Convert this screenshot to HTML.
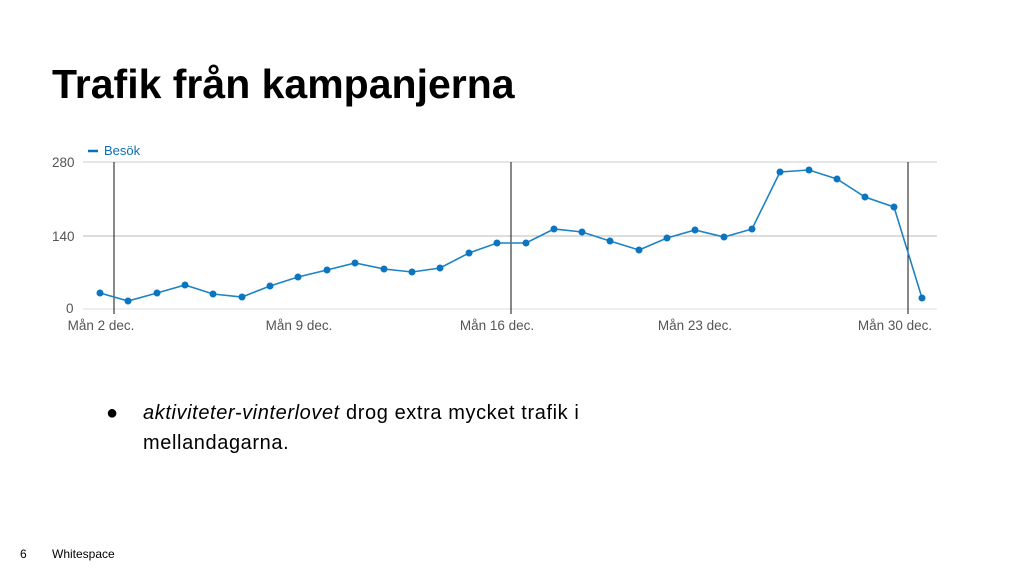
<!DOCTYPE html>
<html><head><meta charset="utf-8"><style>
body{margin:0;width:1024px;height:576px;background:#fff;position:relative;overflow:hidden;font-family:"Liberation Sans",sans-serif}
h1{position:absolute;left:52px;top:61px;margin:0;font-size:41px;font-weight:bold;color:#000;letter-spacing:0px}
.b{position:absolute;left:106px;top:398px;font-size:20px;line-height:30px;color:#000;letter-spacing:0.6px}
.f{position:absolute;top:547px;font-size:12px;color:#000}
</style></head><body>
<h1>Trafik från kampanjerna</h1>
<svg width="1024" height="576" style="position:absolute;left:0;top:0">
<g font-family="Liberation Sans,sans-serif" font-size="13.5" fill="#555">
<line x1="88" y1="151" x2="98" y2="151" stroke="#0b6fb5" stroke-width="2.5"/>
<text x="104" y="155" fill="#0b6fb5" font-size="13">Besök</text>
<line x1="83" y1="162" x2="937" y2="162" stroke="#ccc"/>
<line x1="83" y1="236" x2="937" y2="236" stroke="#bbb"/>
<line x1="83" y1="309" x2="937" y2="309" stroke="#ddd"/>
<text x="52" y="167">280</text><text x="52" y="241">140</text><text x="66" y="313">0</text>
<g stroke="#111"><line x1="114" y1="162" x2="114" y2="314"/><line x1="511" y1="162" x2="511" y2="314"/><line x1="908" y1="162" x2="908" y2="314"/></g>
<text x="101" y="330" text-anchor="middle">Mån 2 dec.</text>
<text x="299" y="330" text-anchor="middle">Mån 9 dec.</text>
<text x="497" y="330" text-anchor="middle">Mån 16 dec.</text>
<text x="695" y="330" text-anchor="middle">Mån 23 dec.</text>
<text x="895" y="330" text-anchor="middle">Mån 30 dec.</text>
</g>
<polyline fill="none" stroke="#1d83c4" stroke-width="1.6" points="100,293 128,301 157,293 185,285 213,294 242,297 270,286 298,277 327,270 355,263 384,269 412,272 440,268 469,253 497,243 526,243 554,229 582,232 610,241 639,250 667,238 695,230 724,237 752,229 780,172 809,170 837,179 865,197 894,207 922,298"/>
<g fill="#0b75c0">
<circle cx="100" cy="293" r="3.5"/><circle cx="128" cy="301" r="3.5"/><circle cx="157" cy="293" r="3.5"/><circle cx="185" cy="285" r="3.5"/><circle cx="213" cy="294" r="3.5"/><circle cx="242" cy="297" r="3.5"/><circle cx="270" cy="286" r="3.5"/><circle cx="298" cy="277" r="3.5"/><circle cx="327" cy="270" r="3.5"/><circle cx="355" cy="263" r="3.5"/><circle cx="384" cy="269" r="3.5"/><circle cx="412" cy="272" r="3.5"/><circle cx="440" cy="268" r="3.5"/><circle cx="469" cy="253" r="3.5"/><circle cx="497" cy="243" r="3.5"/><circle cx="526" cy="243" r="3.5"/><circle cx="554" cy="229" r="3.5"/><circle cx="582" cy="232" r="3.5"/><circle cx="610" cy="241" r="3.5"/><circle cx="639" cy="250" r="3.5"/><circle cx="667" cy="238" r="3.5"/><circle cx="695" cy="230" r="3.5"/><circle cx="724" cy="237" r="3.5"/><circle cx="752" cy="229" r="3.5"/><circle cx="780" cy="172" r="3.5"/><circle cx="809" cy="170" r="3.5"/><circle cx="837" cy="179" r="3.5"/><circle cx="865" cy="197" r="3.5"/><circle cx="894" cy="207" r="3.5"/><circle cx="922" cy="298" r="3.5"/>
</g>
</svg>
<div class="b"><span style="position:absolute;left:0">●</span><div style="margin-left:37px;width:540px"><i>aktiviteter-vinterlovet</i> drog extra mycket trafik i mellandagarna.</div></div>
<div class="f" style="left:20px">6</div><div class="f" style="left:52px">Whitespace</div>
</body></html>
